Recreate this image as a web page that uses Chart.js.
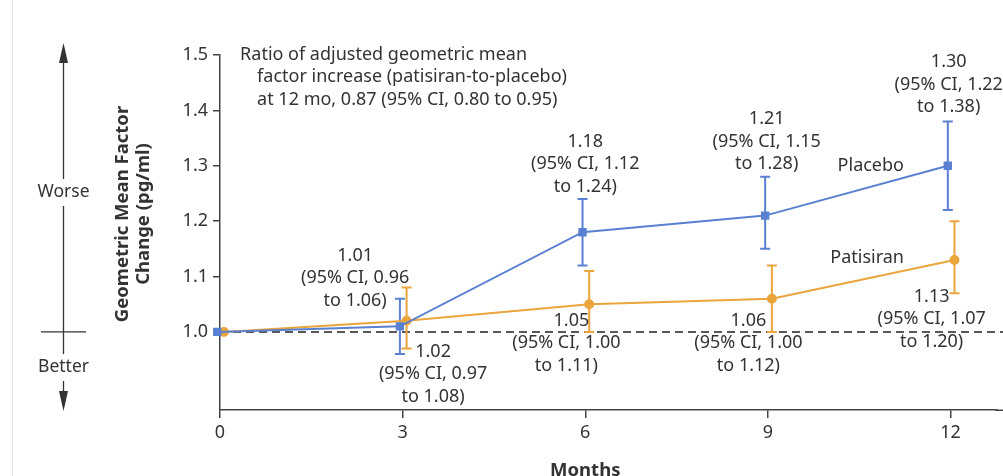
<!DOCTYPE html>
<html>
<head>
<meta charset="utf-8">
<script src="https://cdn.jsdelivr.net/npm/chart.js@4/dist/chart.umd.min.js"></script>
<style>
  html, body { margin: 0; padding: 0; background: #fff; }
  #wrap { width: 1003px; height: 476px; position: relative; }
</style>
</head>
<body>
<div id="wrap"><canvas id="c" width="1003" height="476"></canvas></div>
<script>
// ---- data ----
const months = [0, 3, 6, 9, 12];
const placebo = [1.00, 1.01, 1.18, 1.21, 1.30];
const placeboLow = [1.00, 0.96, 1.12, 1.15, 1.22];
const placeboHigh = [1.00, 1.06, 1.24, 1.28, 1.38];
const patisiran = [1.00, 1.02, 1.05, 1.06, 1.13];
const patisiranLow = [1.00, 0.97, 1.00, 1.00, 1.07];
const patisiranHigh = [1.00, 1.08, 1.11, 1.12, 1.20];
const xTickValues = [0, 3, 6, 9, 12];
const yTickValues = [1.0, 1.1, 1.2, 1.3, 1.4, 1.5];
const seriesNames = ['Placebo', 'Patisiran'];

// annotation text (anchored in data units)
const annotations = [
  { x: 0.33, y: 1.5, align: 'left', indent: 17, lines: ['Ratio of adjusted geometric mean', 'factor increase (patisiran-to-placebo)', 'at 12 mo, 0.87 (95% CI, 0.80 to 0.95)'] },
  { x: 2.22, y: 1.137, align: 'center', lines: ['1.01', '(95% CI, 0.96', 'to 1.06)'] },
  { x: 3.50, y: 0.964, align: 'center', lines: ['1.02', '(95% CI, 0.97', 'to 1.08)'] },
  { x: 6.0, y: 1.343, align: 'center', lines: ['1.18', '(95% CI, 1.12', 'to 1.24)'] },
  { x: 8.98, y: 1.384, align: 'center', lines: ['1.21', '(95% CI, 1.15', 'to 1.28)'] },
  { x: 11.97, y: 1.487, align: 'center', lines: ['1.30', '(95% CI, 1.22', 'to 1.38)'] },
  { x: 5.69, y: 1.020, align: 'center', firstShift: 5, lines: ['1.05', '(95% CI, 1.00', 'to 1.11)'] },
  { x: 8.68, y: 1.020, align: 'center', lines: ['1.06', '(95% CI, 1.00', 'to 1.12)'] },
  { x: 11.69, y: 1.063, align: 'center', lines: ['1.13', '(95% CI, 1.07', 'to 1.20)'] },
  { x: 10.69, y: 1.300, align: 'center', lines: ['Placebo'] },
  { x: 10.63, y: 1.134, align: 'center', lines: ['Patisiran'] }
];

// ---- style ----
const BLUE = '#5a80d2';
const ORANGE = '#eaa53d';
const FONT = '"Noto Sans", "Open Sans", sans-serif';
const TEXT = '#333';
const dodge = [-0.045, 0.065];

const lows = [placeboLow, patisiranLow];
const highs = [placeboHigh, patisiranHigh];

function pts(vals, d) { return months.map((m, i) => ({ x: m + d, y: vals[i] })); }

const panelPlugin = {
  id: 'panel',
  beforeDatasetsDraw(chart) {
    const { ctx, scales: { x, y } } = chart;
    // dashed reference line at 1.0
    ctx.save();
    ctx.strokeStyle = '#222';
    ctx.lineWidth = 1.5;
    ctx.setLineDash([8, 5]);
    ctx.beginPath();
    const y1 = y.getPixelForValue(1.0);
    ctx.moveTo(x.getPixelForValue(0), y1);
    ctx.lineTo(chart.width, y1);
    ctx.stroke();
    ctx.restore();
    // error bars
    chart.data.datasets.forEach((ds, di) => {
      ctx.save();
      ctx.strokeStyle = ds.borderColor;
      ctx.lineWidth = 2;
      months.forEach((m, i) => {
        const lo = lows[di][i], hi = highs[di][i];
        if (lo === hi) return;
        const px = x.getPixelForValue(m + dodge[di]);
        const pl = y.getPixelForValue(lo), ph = y.getPixelForValue(hi);
        ctx.beginPath();
        ctx.moveTo(px, pl); ctx.lineTo(px, ph);
        ctx.moveTo(px - 5, pl); ctx.lineTo(px + 5, pl);
        ctx.moveTo(px - 5, ph); ctx.lineTo(px + 5, ph);
        ctx.stroke();
      });
      ctx.restore();
    });
  },
  afterDraw(chart) {
    const { ctx, scales: { x, y }, chartArea } = chart;
    ctx.save();
    // extend x axis line to the right edge
    ctx.strokeStyle = '#444';
    ctx.lineWidth = 1.5;
    ctx.beginPath();
    ctx.moveTo(chartArea.right - 1, chartArea.bottom + 0.25);
    ctx.lineTo(chart.width, chartArea.bottom + 0.25);
    ctx.stroke();

    // faint frame line at the left
    ctx.strokeStyle = '#e2e2e2';
    ctx.lineWidth = 1;
    ctx.beginPath();
    ctx.moveTo(12.5, 0); ctx.lineTo(12.5, 476);
    ctx.stroke();

    // annotations
    ctx.fillStyle = TEXT;
    ctx.font = '18px ' + FONT;
    ctx.textBaseline = 'middle';
    annotations.forEach(a => {
      const px = x.getPixelForValue(a.x);
      const py = y.getPixelForValue(a.y);
      a.lines.forEach((t, i) => {
        ctx.textAlign = a.align;
        let off = (a.indent && i > 0) ? a.indent : 0;
        if (i === 0 && a.firstShift) off += a.firstShift;
        ctx.fillText(t, px + off, py + i * 22.3);
      });
    });

    // x axis title
    ctx.font = 'bold 18.5px ' + FONT;
    ctx.textAlign = 'center';
    ctx.textBaseline = 'alphabetic';
    ctx.fillText('Months', x.getPixelForValue(6), 476);

    // y axis title (rotated)
    ctx.textBaseline = 'middle';
    ctx.save();
    ctx.translate(133, 214);
    ctx.rotate(-Math.PI / 2);
    ctx.fillText('Geometric Mean Factor', 0, -10.5);
    ctx.fillText('Change (pg/ml)', 0, 11);
    ctx.restore();

    // worse / better arrow
    const ax = 63.5;
    ctx.strokeStyle = '#333';
    ctx.fillStyle = '#333';
    ctx.lineWidth = 1.3;
    ctx.beginPath();
    ctx.moveTo(ax, 58); ctx.lineTo(ax, 179);
    ctx.moveTo(ax, 206); ctx.lineTo(ax, 354);
    ctx.moveTo(ax, 381); ctx.lineTo(ax, 398);
    ctx.moveTo(41, y.getPixelForValue(1.0)); ctx.lineTo(86, y.getPixelForValue(1.0));
    ctx.stroke();
    ctx.beginPath();
    ctx.moveTo(ax, 43); ctx.lineTo(ax - 4.5, 63); ctx.lineTo(ax + 4.5, 63); ctx.closePath();
    ctx.fill();
    ctx.beginPath();
    ctx.moveTo(ax, 411); ctx.lineTo(ax - 4.5, 391); ctx.lineTo(ax + 4.5, 391); ctx.closePath();
    ctx.fill();
    ctx.fillStyle = TEXT;
    ctx.font = '17.5px ' + FONT;
    ctx.textAlign = 'center';
    ctx.fillText('Worse', ax, 192);
    ctx.fillText('Better', ax, 367);
    ctx.restore();
  }
};

new Chart(document.getElementById('c'), {
  type: 'scatter',
  data: {
    datasets: [
      {
        label: seriesNames[0], data: pts(placebo, dodge[0]), showLine: true,
        borderColor: BLUE, backgroundColor: BLUE, borderWidth: 2,
        pointStyle: 'rect', pointRadius: 4.5, pointHoverRadius: 4.5, clip: false
      },
      {
        label: seriesNames[1], data: pts(patisiran, dodge[1]), showLine: true,
        borderColor: ORANGE, backgroundColor: ORANGE, borderWidth: 2,
        pointStyle: 'circle', pointRadius: 4, pointHoverRadius: 4, clip: false
      }
    ]
  },
  options: {
    responsive: false,
    animation: false,
    events: [],
    layout: { padding: { top: 55, right: 0, left: 0, bottom: 0 } },
    plugins: { legend: { display: false }, tooltip: { enabled: false } },
    scales: {
      x: {
        type: 'linear', min: 0, max: 12.755,
        afterBuildTicks: s => { s.ticks = xTickValues.map(v => ({ value: v })); },
        afterFit: s => { s.height = 66; },
        grid: { drawOnChartArea: false, drawTicks: true, tickLength: 8, color: '#444', lineWidth: 1.5 },
        border: { display: true, color: '#444', width: 1.5 },
        ticks: { color: '#333', font: { family: FONT, size: 18 }, padding: 4, maxRotation: 0 }
      },
      y: {
        type: 'linear', min: 0.859, max: 1.5,
        afterBuildTicks: s => { s.ticks = yTickValues.map(v => ({ value: v })); },
        afterFit: s => { s.width = 220; },
        grid: { drawOnChartArea: false, drawTicks: true, tickLength: 7, color: '#444', lineWidth: 1.5 },
        border: { display: true, color: '#444', width: 1.5 },
        ticks: { color: '#333', font: { family: FONT, size: 18 }, padding: 5, callback: v => v.toFixed(1) }
      }
    }
  },
  plugins: [panelPlugin]
});
</script>
</body>
</html>
